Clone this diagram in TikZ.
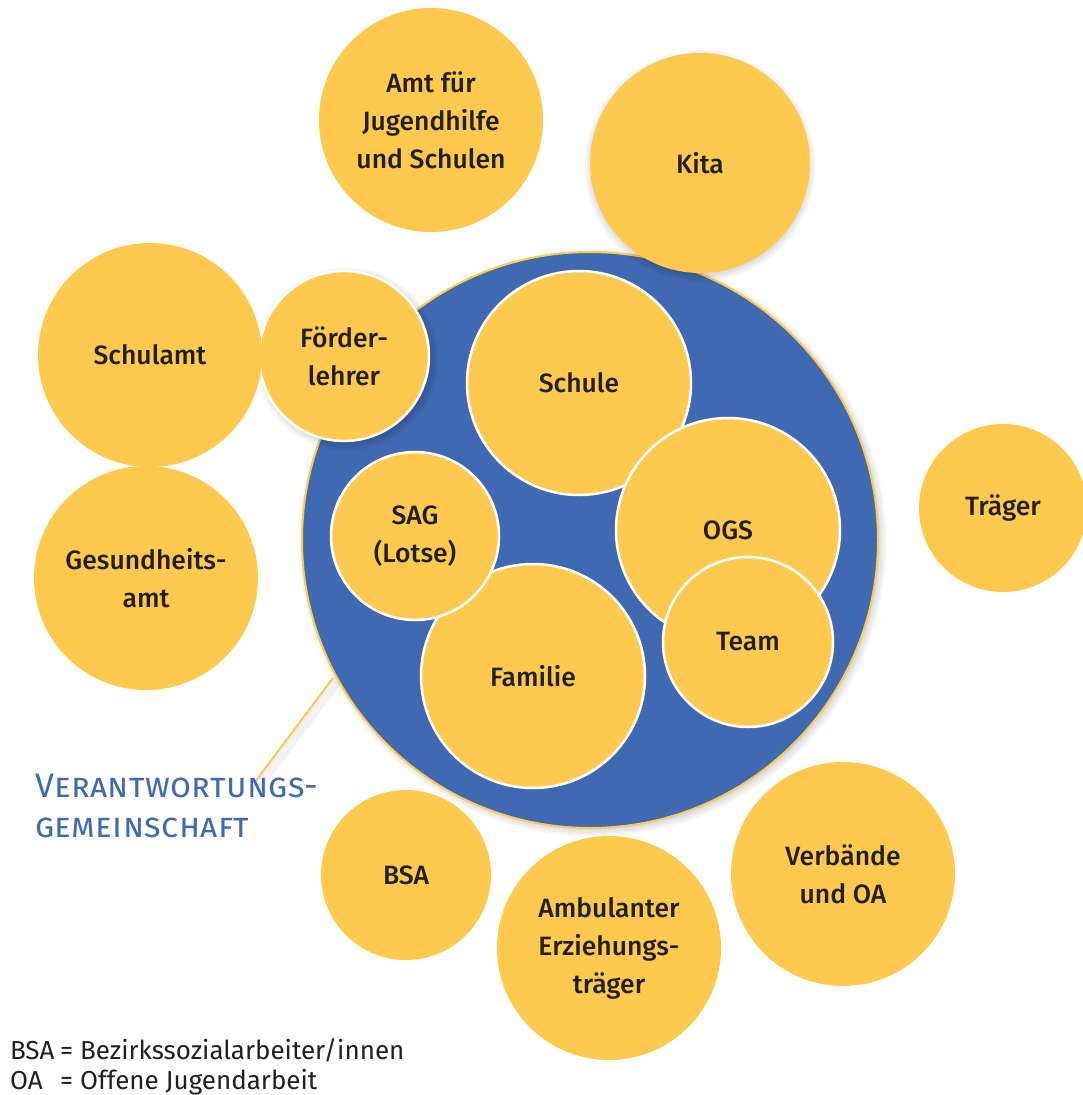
\documentclass[tikz,border=0pt]{standalone}
\usepackage{fontspec}
\setmainfont{Fira Sans}[BoldFont={Fira Sans Medium}]
\definecolor{yel}{HTML}{FDCA4F}
\definecolor{blu}{HTML}{3F69B1}
\definecolor{ink}{HTML}{231F20}
\tikzset{
  ycirc/.style={circle, fill=yel, inner sep=0pt, align=center, text=ink,
    font=\fontsize{26.5}{38}\selectfont\bfseries},
  incirc/.style={ycirc, draw=white, line width=2.5pt},
  shadowlayer/.style={fill=black, fill opacity=0.014, draw=none},
  legend/.style={anchor=base west, inner sep=0pt, text=ink, font=\fontsize{26}{30}\selectfont},
  vgtext/.style={anchor=base west, inner sep=0pt, text=blu, font=\fontsize{34}{40}\selectfont\scshape\addfontfeatures{LetterSpace=1}},
}
\newcommand{\softshade}[3]{%
  \foreach \k in {1,...,14}{%
    \pgfmathsetmacro{\rr}{#3+\k}%
    \fill[shadowlayer] (#1,#2) circle[radius=\rr pt];}}
\begin{document}
\begin{tikzpicture}[x=1pt,y=-1pt]
\useasboundingbox[fill=white] (0,0) rectangle (1082,1095);
% pointer line shadow and line
\coordinate (lineA) at (333,678);
\coordinate (lineB) at (255,782);
\draw[black, opacity=0.05, line width=10pt, line cap=round] ([xshift=4pt,yshift=-3pt]lineA) -- ([xshift=4pt,yshift=-3pt]lineB);
\draw[yel, line width=2pt] (lineA) -- (lineB);
% big blue circle
\softshade{593}{543}{280}
\node[circle, fill=blu, draw=yel, line width=2pt, minimum size=576, inner sep=0pt] (vg) at (590,540) {};
% inner circles
\node[incirc, minimum size=224] (schule) at (579,383) {Schule};
\node[incirc, minimum size=224] (ogs) at (728,530) {OGS};
\node[incirc, minimum size=170] (team) at (748,642) {Team};
\node[incirc, minimum size=224] (familie) at (533,676) {Familie};
\node[incirc, minimum size=168] (sag) at (415,536) {SAG\\(Lotse)};
\softshade{347}{359}{78}
\node[incirc, minimum size=170] (foerder) at (344,356) {Förder-\\lehrer};
% outer circles
\softshade{700}{166}{102}
\node[ycirc, minimum size=220] (kita) at (700,163) {Kita};
\node[ycirc, minimum size=224] (amt) at (431,120) {Amt für\\Jugendhilfe\\und Schulen};
\node[ycirc, minimum size=224] (schulamt) at (150,355) {Schulamt};
\node[ycirc, minimum size=224] (gesund) at (146,578) {Gesundheits-\\amt};
\node[ycirc, minimum size=168] (traeger) at (1003,508) {Träger};
\node[ycirc, minimum size=170] (bsa) at (406,875) {BSA};
\node[ycirc, minimum size=224] (amb) at (609,948) {Ambulanter\\Erziehungs-\\träger};
\node[ycirc, minimum size=224] (verb) at (843,874) {Verbände\\und OA};
% label
\node[vgtext] (vg1) at (35,797) {Verantwortungs-};
\node[vgtext] (vg2) at (35,837) {gemeinschaft};
% legend
\node[legend] (l1a) at (10,1059) {BSA};
\node[legend] (l1b) at (60,1059) {= Bezirkssozialarbeiter/innen};
\node[legend] (l2a) at (10,1089) {OA};
\node[legend] (l2b) at (60,1089) {= Offene Jugendarbeit};
\end{tikzpicture}
\end{document}
